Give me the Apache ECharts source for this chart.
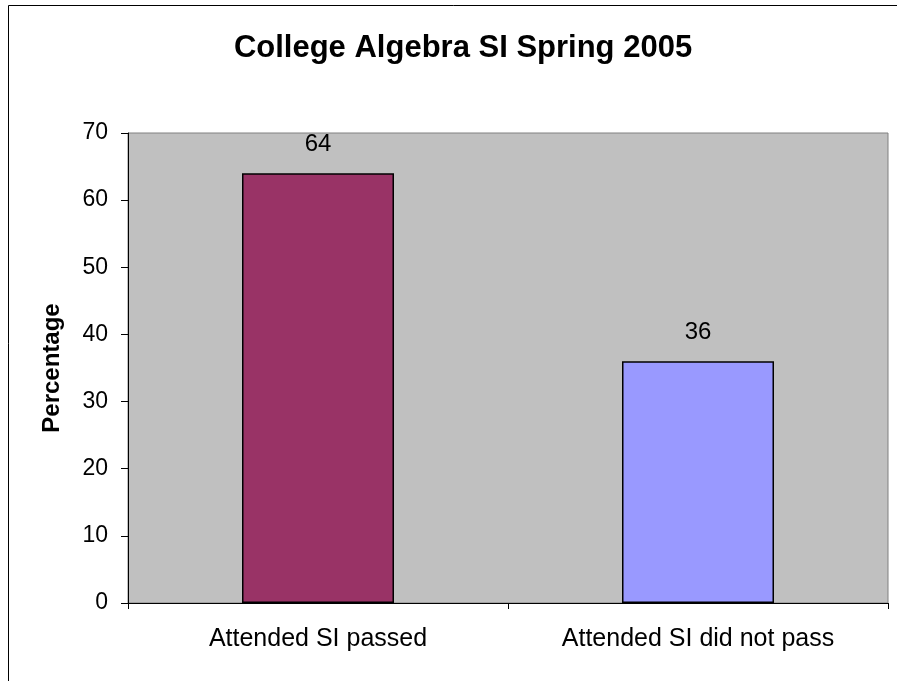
<!DOCTYPE html>
<html>
<head>
<meta charset="utf-8">
<script src="https://cdn.jsdelivr.net/npm/echarts@6/dist/echarts.min.js"></script>
<style>html,body{margin:0;padding:0;background:#fff}#c{width:897px;height:681px}</style>
</head>
<body>
<div id="c"></div>
<script>
var categories = ['Attended SI passed', 'Attended SI did not pass'];
var values = [64, 36];
var barColors = ['#993366', '#9999FF'];
var yTicks = { min: 0, max: 70, interval: 10 };

var chart = echarts.init(document.getElementById('c'));
var F = '"Liberation Sans", Arial, sans-serif';
chart.setOption({
  animation: false,
  backgroundColor: '#fff',
  title: {
    text: 'College Algebra SI Spring 2005',
    left: 458, top: 28, textAlign: 'center',
    textStyle: { fontFamily: F, fontSize: 31, fontWeight: 'bold', color: '#000' }
  },
  graphic: [{
    type: 'rect', silent: true,
    shape: { x: 8.5, y: 5.5, width: 900, height: 700 },
    style: { fill: 'none', stroke: '#000', lineWidth: 1 }
  }],
  grid: {
    left: 128, top: 133, width: 760, height: 470,
    show: true, backgroundColor: '#C0C0C0', borderColor: '#808080', borderWidth: 1
  },
  xAxis: {
    type: 'category', data: categories,
    axisLine: { lineStyle: { color: '#000', width: 1 } },
    axisTick: { show: true, length: 6, lineStyle: { color: '#000' } },
    axisLabel: { fontFamily: F, fontSize: 25, color: '#000', margin: 24 }
  },
  yAxis: {
    type: 'value', min: yTicks.min, max: yTicks.max, interval: yTicks.interval,
    name: 'Percentage', nameLocation: 'middle', nameGap: 64,
    nameTextStyle: { fontFamily: F, fontSize: 24, fontWeight: 'bold', color: '#000' },
    axisLine: { show: true, lineStyle: { color: '#000', width: 1 } },
    axisTick: { show: true, length: 7, lineStyle: { color: '#000' } },
    splitLine: { show: false },
    axisLabel: { fontFamily: F, fontSize: 23, color: '#000', margin: 20 }
  },
  series: [{
    type: 'bar',
    barWidth: '40%',
    data: values.map(function (v, i) {
      return { value: v, itemStyle: { color: barColors[i] } };
    }),
    itemStyle: { borderColor: '#000', borderWidth: 1.5 },
    label: { show: true, position: 'top', distance: 17, fontFamily: F, fontSize: 24, color: '#000' }
  }]
});
</script>
</body>
</html>
